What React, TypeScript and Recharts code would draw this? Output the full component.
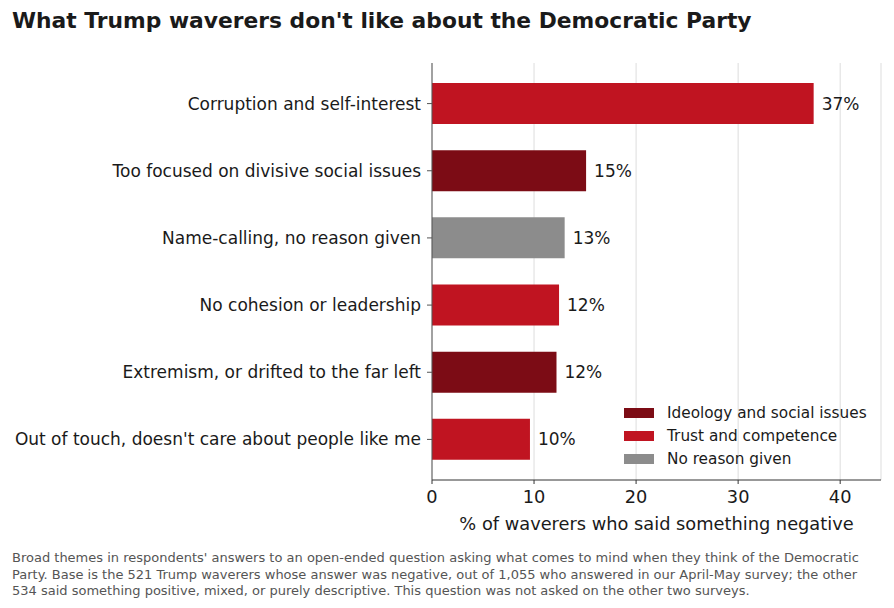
import React from "react"
import {
  BarChart,
  Bar,
  XAxis,
  YAxis,
  CartesianGrid,
  Cell,
  LabelList,
} from "recharts"

const FONT = "'DejaVu Sans', sans-serif"

const reasons = [
  "Corruption and self-interest",
  "Too focused on divisive social issues",
  "Name-calling, no reason given",
  "No cohesion or leadership",
  "Extremism, or drifted to the far left",
  "Out of touch, doesn't care about people like me",
]
const shares = [37.4, 15.1, 13.0, 12.45, 12.2, 9.6]
const themes = ["trust", "ideology", "none", "trust", "ideology", "trust"]

const themeNames = ["ideology", "trust", "none"]
const themeLabels = ["Ideology and social issues", "Trust and competence", "No reason given"]
const themeColors: Record<string, string> = {
  ideology: "#7c0c15",
  trust: "#c01421",
  none: "#8c8c8c",
}

const xTicks = [0, 10, 20, 30, 40]

const footnote = [
  "Broad themes in respondents' answers to an open-ended question asking what comes to mind when they think of the Democratic",
  "Party. Base is the 521 Trump waverers whose answer was negative, out of 1,055 who answered in our April-May survey; the other",
  "534 said something positive, mixed, or purely descriptive. This question was not asked on the other two surveys.",
]

const rows = reasons.map((reason, i) => ({ reason, share: shares[i], theme: themes[i] }))

function LegendBox() {
  return (
    <div
      style={{
        position: "absolute",
        left: 624,
        top: 401,
        fontFamily: FONT,
        fontSize: 15.3,
        color: "#1a1a1a",
        whiteSpace: "nowrap",
      }}
    >
      {themeNames.map((t, i) => (
        <div key={t} style={{ display: "flex", alignItems: "center", height: 23 }}>
          <span
            style={{
              display: "inline-block",
              width: 30,
              height: 10,
              background: themeColors[t],
              marginRight: 13,
            }}
          />
          {themeLabels[i]}
        </div>
      ))}
    </div>
  )
}

export default function App() {
  return (
    <div style={{ position: "absolute", left: 0, top: 0, width: 894, height: 608, background: "#fff" }}>
      <div
        style={{
          position: "absolute",
          left: 12,
          top: 8,
          fontFamily: FONT,
          fontWeight: "bold",
          fontSize: 21.8,
          color: "#1a1a1a",
          whiteSpace: "nowrap",
        }}
      >
        What Trump waverers don't like about the Democratic Party
      </div>

      <BarChart
        width={894}
        height={608}
        data={rows}
        layout="vertical"
        margin={{ top: 63, right: 13, bottom: 68, left: 0 }}
      >
        <CartesianGrid horizontal={false} stroke="#dddddd" />
        <XAxis
          type="number"
          domain={[0, 44]}
          ticks={xTicks}
          allowDataOverflow
          stroke="#333"
          tickSize={4}
          tickMargin={6}
          height={60}
          tick={{ fontFamily: FONT, fontSize: 17.8, fill: "#1a1a1a" }}
          label={{
            value: "% of waverers who said something negative",
            position: "insideBottom",
            offset: 10,
            style: { fontFamily: FONT, fontSize: 17.8, fill: "#1a1a1a" },
          }}
        />
        <YAxis
          type="category"
          dataKey="reason"
          width={432}
          stroke="#555"
          tickSize={5}
          tickMargin={6}
          padding={{ top: 7, bottom: 7 }}
          interval={0}
          tick={{ fontFamily: FONT, fontSize: 17, fill: "#1a1a1a" }}
        />
        <Bar dataKey="share" barSize={41} isAnimationActive={false}>
          {rows.map((r) => (
            <Cell key={r.reason} fill={themeColors[r.theme]} />
          ))}
          <LabelList
            dataKey="share"
            position="right"
            offset={8}
            formatter={(v: any) => `${Math.round(Number(v))}%`}
            style={{ fontFamily: FONT, fontSize: 17, fill: "#1a1a1a" }}
          />
        </Bar>
      </BarChart>

      <LegendBox />

      <div
        style={{
          position: "absolute",
          left: 12,
          top: 550,
          fontFamily: FONT,
          fontSize: 13,
          lineHeight: "16.5px",
          color: "#555",
          whiteSpace: "nowrap",
        }}
      >
        {footnote.map((line) => (
          <div key={line}>{line}</div>
        ))}
      </div>
    </div>
  )
}
